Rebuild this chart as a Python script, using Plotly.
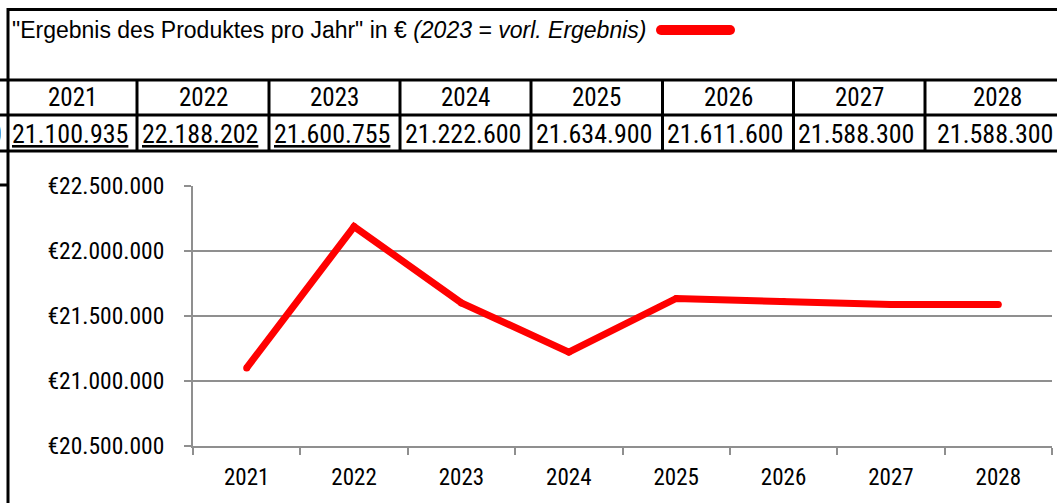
import plotly.graph_objects as go

# --- data -------------------------------------------------------------
years = ["2021", "2022", "2023", "2024", "2025", "2026", "2027", "2028"]
results = [21100935, 22188202, 21600755, 21222600, 21634900, 21611600, 21588300, 21588300]
final_years = ["2021", "2022", "2023"]          # booked results, shown underlined
y_ticks = [20500000, 21000000, 21500000, 22000000, 22500000]

title_plain = '"Ergebnis des Produktes pro Jahr" in € '
title_note = "(2023 = vorl. Ergebnis)"

# --- page geometry helpers (pixel -> paper) ----------------------------
W, H = 1057, 503


def px(x):
    return x / W


def py(y):
    return 1 - y / H


def fmt(v):
    return f"{v:,}".replace(",", ".")


FONT = "Roboto Condensed, Liberation Sans Narrow, Arial Narrow, sans-serif"
TITLE_FONT = "Liberation Sans, Arial, sans-serif"
RED = "#ff0000"
GRID = "#8f8f8f"

col_edges = [8, 137, 269, 400, 531, 662.5, 793.5, 925, 1070]
row_lines = [80, 115, 151]
head_mid, val_mid = 97.5, 133.5

fig = go.Figure()

fig.add_trace(go.Scatter(
    x=years, y=results,
    mode="lines+markers",
    line=dict(color=RED, width=7),
    marker=dict(color=RED, size=7),
    hoverinfo="skip",
    showlegend=False,
))

shapes = []
annotations = []


def hline(y, x0, x1, w=3):
    shapes.append(dict(type="line", xref="paper", yref="paper",
                       x0=px(x0), x1=px(x1), y0=py(y), y1=py(y),
                       line=dict(color="black", width=w)))


def vline(x, y0, y1, w=3):
    shapes.append(dict(type="line", xref="paper", yref="paper",
                       x0=px(x), x1=px(x), y0=py(y0), y1=py(y1),
                       line=dict(color="black", width=w)))


# table frame
hline(9.5, 7, W)
for y in row_lines:
    hline(y, 0, W)
hline(185, 0, 8)
vline(8, 8, H)
for x in col_edges[1:-1]:
    vline(x, row_lines[0], row_lines[-1])

# title with the series key
annotations.append(dict(
    xref="paper", yref="paper", x=px(10), y=py(30),
    xanchor="left", yanchor="middle", showarrow=False,
    text=title_plain + "<i>" + title_note + "</i>",
    font=dict(family=TITLE_FONT, size=23, color="black"),
))
key_x0, key_x1, key_y, key_w = 656, 735, 30, 10
shapes.append(dict(type="line", xref="paper", yref="paper",
                   x0=px(key_x0 + key_w / 2), x1=px(key_x1 - key_w / 2),
                   y0=py(key_y), y1=py(key_y),
                   line=dict(color=RED, width=key_w)))
for cx in (key_x0 + key_w / 2, key_x1 - key_w / 2):
    shapes.append(dict(type="circle", xref="paper", yref="paper",
                       x0=px(cx - key_w / 2), x1=px(cx + key_w / 2),
                       y0=py(key_y + key_w / 2), y1=py(key_y - key_w / 2),
                       fillcolor=RED, line=dict(width=0)))

# year header row and value row
for i, (yr, val) in enumerate(zip(years, results)):
    left, right = col_edges[i], col_edges[i + 1]
    mid = (left + right) / 2
    annotations.append(dict(
        xref="paper", yref="paper", x=px(mid), y=py(head_mid),
        xanchor="center", yanchor="middle", showarrow=False, text=yr,
        font=dict(family=FONT, size=25, color="black"),
    ))
    txt = fmt(val)
    if yr in final_years:
        txt = '<span style="text-decoration:underline double">' + txt + "</span>"
    annotations.append(dict(
        xref="paper", yref="paper", x=px(mid - 3), y=py(val_mid),
        xanchor="center", yanchor="middle", showarrow=False, text=txt,
        font=dict(family=FONT, size=26, color="black"),
    ))

# clipped neighbour cell at the left edge
annotations.append(dict(
    xref="paper", yref="paper", x=px(4), y=py(val_mid),
    xanchor="right", yanchor="middle", showarrow=False, text="0",
    font=dict(family=FONT, size=26, color="black"),
))

fig.update_layout(
    width=W, height=H,
    margin=dict(l=0, r=0, t=0, b=0, autoexpand=False),
    paper_bgcolor="white", plot_bgcolor="white",
    shapes=shapes,
    annotations=annotations,
    xaxis=dict(
        domain=[px(193), px(1052)],
        type="category", range=[-0.5, 7.5],
        tickson="boundaries", ticks="outside", ticklen=7,
        tickcolor=GRID, tickwidth=2,
        showline=True, linecolor=GRID, linewidth=2,
        showgrid=False, zeroline=False,
        tickfont=dict(family=FONT, size=23, color="black"),
        ticklabelstandoff=9,
        automargin=False,
        fixedrange=True,
    ),
    yaxis=dict(
        domain=[py(446), py(186)],
        range=[y_ticks[0], y_ticks[-1]],
        tickmode="array",
        tickvals=y_ticks,
        ticktext=["€" + fmt(v) for v in y_ticks],
        ticks="outside", ticklen=7, tickcolor=GRID, tickwidth=2,
        showline=True, linecolor=GRID, linewidth=2,
        showgrid=True, gridcolor=GRID, gridwidth=2,
        zeroline=False,
        tickfont=dict(family=FONT, size=23.5, color="black"),
        ticklabelstandoff=15,
        automargin=False,
        fixedrange=True,
    ),
)

fig.write_html("out.html")
